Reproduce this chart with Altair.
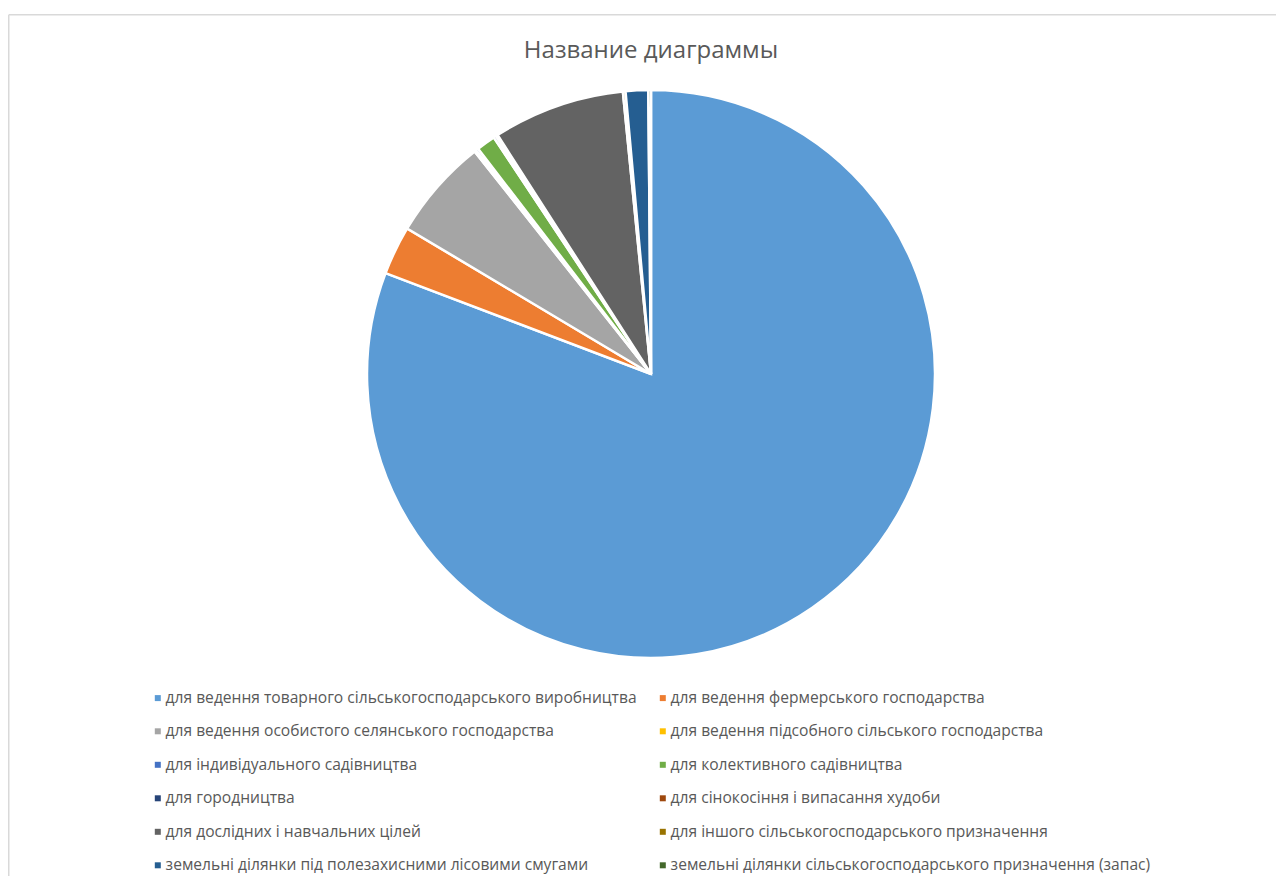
import altair as alt
import pandas as pd

categories = [
    "для ведення товарного сільськогосподарського виробництва",
    "для ведення фермерського господарства",
    "для ведення особистого селянського господарства",
    "для ведення підсобного сільського господарства",
    "для індивідуального садівництва",
    "для колективного садівництва",
    "для городництва",
    "для сінокосіння і випасання худоби",
    "для дослідних і навчальних цілей",
    "для іншого сільськогосподарського призначення",
    "земельні ділянки під полезахисними лісовими смугами",
    "земельні ділянки сільськогосподарського призначення (запас)",
]
values = [80.75, 2.78, 5.77, 0.1, 0.15, 1.08, 0.15, 0.1, 7.5, 0.15, 1.28, 0.15]
colors = ["#5B9BD5", "#ED7D31", "#A5A5A5", "#FFC000", "#4472C4", "#70AD47",
          "#264478", "#9E480E", "#636363", "#997300", "#255E91", "#43682B"]
title_text = "Название диаграммы"

df = pd.DataFrame({"cat": categories, "val": values, "idx": list(range(len(categories)))})

# legend fills column by column: reorder so it reads row by row like the reference
leg_order = list(range(0, len(categories), 2)) + list(range(1, len(categories), 2))
dom = [categories[i] for i in leg_order]
rng = [colors[i] for i in leg_order]

pie = alt.Chart(df).mark_arc(radius=284, stroke="white", strokeWidth=2.5).encode(
    theta=alt.Theta("val:Q", stack=True),
    order=alt.Order("idx:Q"),
    color=alt.Color(
        "cat:N",
        scale=alt.Scale(domain=dom, range=rng),
        legend=alt.Legend(
            title=None,
            orient="none",
            legendX=142,
            legendY=682,
            columns=2,
            symbolType="square",
            symbolSize=36,
            symbolStrokeWidth=0,
            labelFont="Open Sans",
            labelFontSize=15.6,
            labelColor="#595959",
            labelOffset=0,
            labelLimit=800,
            rowPadding=16.5,
            columnPadding=18,
            padding=0,
        ),
    ),
    x=alt.value(643),
    y=alt.value(366),
)

title = alt.Chart(pd.DataFrame({"t": [title_text]})).mark_text(
    font="Open Sans", fontSize=24, color="#595959", align="center", baseline="middle"
).encode(text="t:N", x=alt.value(643), y=alt.value(43))

border_top = alt.Chart(pd.DataFrame({"a": [0]})).mark_rule(color="#d9d9d9", strokeWidth=1.5).encode(
    x=alt.value(0.75), x2=alt.value(1268), y=alt.value(6.75)
)
border_left = alt.Chart(pd.DataFrame({"a": [0]})).mark_rule(color="#d9d9d9", strokeWidth=1.5).encode(
    x=alt.value(0.75), y=alt.value(6.75), y2=alt.value(868)
)

chart = alt.layer(border_top, border_left, pie, title).properties(
    width=1268, height=868, autosize=alt.AutoSizeParams(type="none"), padding=0
).configure_view(stroke=None)

chart.save("out.html", embed_options={"renderer": "svg", "actions": False})
